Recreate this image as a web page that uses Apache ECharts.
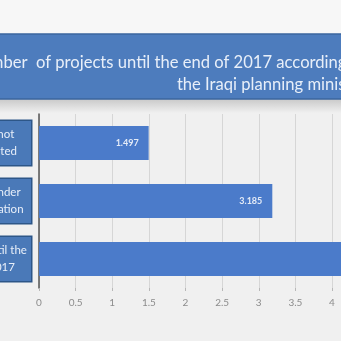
<!DOCTYPE html>
<html>
<head>
<meta charset="utf-8">
<script src="https://cdn.jsdelivr.net/npm/echarts@6/dist/echarts.min.js"></script>
<style>
  html, body { margin: 0; padding: 0; background: #f1f1f1; }
  #chart { width: 341px; height: 341px; }
</style>
</head>
<body>
<div id="chart"></div>
<script>
// Project counts (thousands) by status, until the end of 2017
const categories = [
  'Projects not\nimplemented',
  'Projects under\nimplementation',
  'Projects until the\nend of 2017'
];
const projectCounts = [1.497, 3.185, 4.682];
const titleLines = [
  'The number  of projects until the end of 2017 according to',
  'the Iraqi planning ministry'
];
const axisMin = 0;
const axisMax = 5;
const axisStep = 0.5;

const chart = echarts.init(document.getElementById('chart'));

chart.setOption({
  backgroundColor: '#f0f0f0',
  animation: false,
  graphic: [
    { type: 'rect', silent: true, z: -10,
      shape: { x: 0, y: 0, width: 341, height: 34 },
      style: { fill: '#f7f7f7' } },
    { type: 'rect', silent: true, z: -9,
      shape: { x: 0, y: 99, width: 341, height: 14 },
      style: { fill: new echarts.graphic.LinearGradient(0, 0, 0, 1, [
        { offset: 0, color: '#c9c9c9' },
        { offset: 1, color: '#f0f0f0' }
      ]) } },
    { type: 'rect', silent: true, z: 1,
      shape: { x: -5, y: 34, width: 351, height: 65 },
      style: { fill: '#4d7cbd', stroke: '#3b659f', lineWidth: 1.5 } },
    { type: 'text', silent: true, z: 2,
      x: 366, y: 51.5,
      style: {
        text: titleLines.join('\n'),
        align: 'right',
        verticalAlign: 'top',
        fill: '#e8eff9',
        font: '16.6px Lato',
        lineHeight: 22
      } }
  ],
  grid: {
    left: 39,
    top: 114,
    height: 174,
    width: 366.25,
    containLabel: false,
    outerBoundsMode: 'none'
  },
  xAxis: {
    type: 'value',
    min: axisMin,
    max: axisMax,
    interval: axisStep,
    axisLine: { show: false },
    axisTick: { show: true, length: 3, lineStyle: { color: '#b8b8b8' } },
    splitLine: { show: true, lineStyle: { color: '#d6d6d6', width: 1 } },
    axisLabel: {
      color: '#8c8c8c',
      fontSize: 10,
      fontFamily: 'Lato',
      margin: 10
    }
  },
  yAxis: {
    type: 'category',
    data: categories,
    inverse: true,
    axisLine: { show: true, lineStyle: { color: '#555555', width: 1.5 } },
    axisTick: { show: false },
    axisLabel: {
      align: 'center',
      margin: 55,
      color: '#e8eff9',
      fontSize: 11.5,
      fontFamily: 'Lato',
      lineHeight: 17,
      width: 86,
      backgroundColor: '#4a79b8',
      borderColor: '#2d5688',
      borderWidth: 1.5,
      padding: [5, 4, 5, 4]
    }
  },
  series: [{
    type: 'bar',
    data: projectCounts,
    barCategoryGap: '41%',
    itemStyle: { color: '#4b7bca' },
    label: {
      show: true,
      position: 'insideRight',
      distance: 10,
      color: '#e4ebf7',
      fontSize: 9,
      fontWeight: 'bold',
      fontFamily: 'Lato'
    }
  }]
});
</script>
</body>
</html>
